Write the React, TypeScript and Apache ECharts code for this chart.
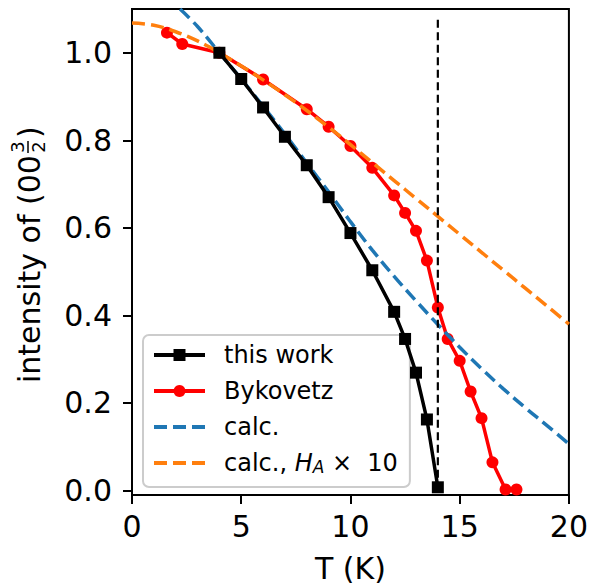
import React, { useEffect, useRef } from "react";
import * as echarts from "echarts";

// ---- data ----
const thisWorkT = [4, 5, 6, 7, 8, 9, 10, 11, 12, 12.5, 13, 13.5, 14];
const thisWorkI = [1.0, 0.94, 0.875, 0.808, 0.743, 0.67, 0.588, 0.503, 0.408, 0.346, 0.269, 0.162, 0.007];

const bykovetzT = [1.6, 2.3, 4, 6, 8, 9, 10, 11, 12, 12.5, 13, 13.5, 14, 14.45, 15, 15.5, 16, 16.5, 17.1, 17.6];
const bykovetzI = [1.046, 1.02, 1.0, 0.939, 0.871, 0.831, 0.787, 0.737, 0.674, 0.634, 0.593, 0.525, 0.418, 0.346, 0.296, 0.226, 0.165, 0.064, 0.002, 0.002];

const calcT = [2.2, 3, 4, 5, 6, 7, 8, 9, 10, 11, 12, 13, 14, 15, 16, 17, 18, 19, 20];
const calcI = [1.1, 1.06, 1.0, 0.94, 0.878, 0.814, 0.748, 0.682, 0.614, 0.549, 0.489, 0.433, 0.379, 0.327, 0.278, 0.232, 0.189, 0.148, 0.106];

const calcHaT = [0, 1, 2, 3, 4, 5, 6, 7, 8, 9, 10, 11, 12, 13, 14, 15, 16, 17, 18, 19, 20];
const calcHaI = [1.068, 1.063, 1.048, 1.027, 1.0, 0.97, 0.938, 0.904, 0.868, 0.83, 0.79, 0.749, 0.708, 0.667, 0.626, 0.585, 0.544, 0.503, 0.462, 0.421, 0.38];

const tcT = [14, 14];
const tcI = [0, 1.08];

const xTicks = [0, 5, 10, 15, 20];
const yTicks = [0, 0.2, 0.4, 0.6, 0.8, 1.0];

const seriesNames = ["this work", "Bykovetz", "calc.", "calc., H_A × 10"];

const zip = (a: number[], b: number[]) => a.map((v, i) => [v, b[i]]);

const FONT = "DejaVu Sans";

export default function App() {
  const ref = useRef<HTMLDivElement>(null);
  useEffect(() => {
    if (!ref.current) return;
    const chart = echarts.init(ref.current, undefined, { renderer: "svg" });
    const option: any = {
      animation: false,
      backgroundColor: "#fff",
      grid: {
        left: 132,
        top: 9,
        width: 440,
        height: 492,
        show: true,
        borderColor: "#000",
        borderWidth: 2,
        backgroundColor: "transparent",
      },
      xAxis: {
        type: "value",
        min: 0,
        max: 20,
        interval: 5,
        name: "T (K)",
        nameLocation: "middle",
        nameGap: 58,
        nameTextStyle: { fontFamily: FONT, fontSize: 30, color: "#000" },
        axisLine: { onZero: false, lineStyle: { color: "#000", width: 2 } },
        axisTick: { show: true, length: 9, lineStyle: { color: "#000", width: 2 }, customValues: xTicks },
        axisLabel: {
          fontFamily: FONT,
          fontSize: 30,
          color: "#000",
          margin: 16,
          customValues: xTicks,
          formatter: (v: number) => String(v),
        },
        splitLine: { show: false },
      },
      yAxis: {
        type: "value",
        min: -0.0106,
        max: 1.1,
        axisLine: { show: true, onZero: false, lineStyle: { color: "#000", width: 2 } },
        axisTick: { show: true, length: 9, lineStyle: { color: "#000", width: 2 }, customValues: yTicks },
        axisLabel: {
          fontFamily: FONT,
          fontSize: 30,
          color: "#000",
          margin: 20,
          customValues: yTicks,
          formatter: (v: number) => v.toFixed(1),
        },
        splitLine: { show: false },
      },
      legend: {
        data: [
          { name: seriesNames[0] },
          { name: seriesNames[1] },
          { name: seriesNames[2], itemStyle: { opacity: 0 } },
          { name: seriesNames[3], itemStyle: { opacity: 0 } },
        ],
        orient: "vertical",
        left: 143,
        top: 335,
        padding: [8, 12, 12, 9],
        itemWidth: 51,
        itemHeight: 15,
        itemGap: 12,
        borderColor: "#cccccc",
        borderWidth: 2,
        borderRadius: 6,
        backgroundColor: "rgba(255,255,255,0.8)",
        lineStyle: { width: 4 },
        textStyle: {
          fontFamily: FONT,
          fontSize: 24,
          color: "#000",
          padding: [0, 0, 0, 14],
          rich: {
            n: { fontFamily: FONT, fontSize: 24, color: "#000" },
            i: { fontFamily: FONT, fontSize: 24, color: "#000", fontStyle: "italic" },
            s: { fontFamily: FONT, fontSize: 17, color: "#000", fontStyle: "italic", verticalAlign: "bottom", lineHeight: 12 },
          },
        },
        formatter: (name: string) => {
          if (name === seriesNames[3]) return "{n|calc., }{i|H}{s|A}{n| ×  10}";
          return name;
        },
      },
      graphic: [
        {
          type: "group",
          x: 29,
          y: 383,
          rotation: Math.PI / 2,
          children: [
            {
              type: "text",
              style: {
                text: "intensity of (00",
                x: 0,
                y: 0,
                fontFamily: FONT,
                fontSize: 30,
                fill: "#000",
                textAlign: "left",
                textVerticalAlign: "middle",
              },
            },
            {
              type: "text",
              style: {
                text: "3",
                x: 236,
                y: -12,
                fontFamily: FONT,
                fontSize: 18,
                fill: "#000",
                textAlign: "center",
                textVerticalAlign: "middle",
              },
            },
            {
              type: "line",
              shape: { x1: 230, y1: -1, x2: 242, y2: -1 },
              style: { stroke: "#000", lineWidth: 1.5 },
            },
            {
              type: "text",
              style: {
                text: "2",
                x: 236,
                y: 9,
                fontFamily: FONT,
                fontSize: 18,
                fill: "#000",
                textAlign: "center",
                textVerticalAlign: "middle",
              },
            },
            {
              type: "text",
              style: {
                text: ")",
                x: 245,
                y: 0,
                fontFamily: FONT,
                fontSize: 30,
                fill: "#000",
                textAlign: "left",
                textVerticalAlign: "middle",
              },
            },
          ],
        },
      ],
      series: [
        {
          name: seriesNames[1],
          type: "line",
          z: 2,
          data: zip(bykovetzT, bykovetzI),
          symbol: "circle",
          symbolSize: 12,
          itemStyle: { color: "#ff0000" },
          lineStyle: { color: "#ff0000", width: 3.5 },
        },
        {
          name: seriesNames[2],
          type: "line",
          z: 3,
          data: zip(calcT, calcI),
          symbol: "none",
          showSymbol: false,
          smooth: 0.4,
          itemStyle: { color: "#1f77b4" },
          lineStyle: { color: "#1f77b4", width: 3.5, type: [13, 6] },
        },
        {
          name: seriesNames[3],
          type: "line",
          z: 4,
          data: zip(calcHaT, calcHaI),
          symbol: "none",
          showSymbol: false,
          smooth: 0.4,
          itemStyle: { color: "#ff7f0e" },
          lineStyle: { color: "#ff7f0e", width: 3.5, type: [13, 6] },
        },
        {
          name: seriesNames[0],
          type: "line",
          z: 5,
          data: zip(thisWorkT, thisWorkI),
          symbol: "rect",
          symbolSize: 12,
          itemStyle: { color: "#000000" },
          lineStyle: { color: "#000000", width: 3.5 },
        },
        {
          name: "Tc",
          type: "line",
          z: 6,
          data: zip(tcT, tcI),
          symbol: "none",
          showSymbol: false,
          lineStyle: { color: "#000000", width: 2.2, type: [8, 4.5] },
        },
      ],
    };
    chart.setOption(option);
    return () => chart.dispose();
  }, []);
  return (
    <div
      ref={ref}
      style={{ position: "absolute", left: 0, top: 0, width: 591, height: 588 }}
    />
  );
}
